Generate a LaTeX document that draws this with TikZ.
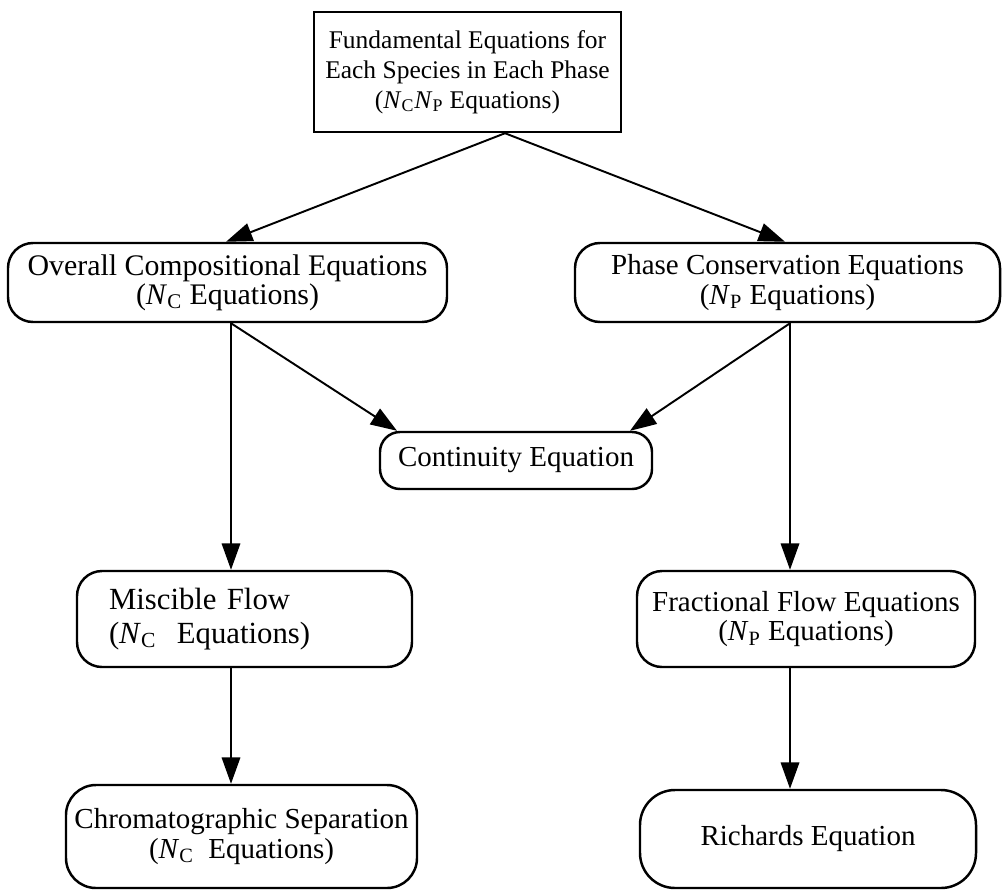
\documentclass[tikz,border=0pt]{standalone}
\usepackage{fontspec}
\setmainfont{Liberation Serif}
\usetikzlibrary{arrows.meta}

\newcommand{\NC}{\textit{N}\textsubscript{C}}
\newcommand{\NP}{\textit{N}\textsubscript{P}}

\begin{document}
\begin{tikzpicture}[->,>={Triangle[length=15pt,width=10.5pt]},line width=1.1pt,
		main node/.style={draw,line width=1.4pt,align=center,inner sep=0pt,
			font=\fontsize{16.5}{17}\selectfont},
		round node/.style={main node,rounded corners=0.5cm}]
		\useasboundingbox (0,0) rectangle (20.16,-17.84);

		\node[main node,minimum width=6.14cm,minimum height=2.4cm,
			font=\fontsize{14.5}{17}\selectfont] (fund) at (9.35,-1.44)
			{Fundamental Equations for\\Each Species in Each Phase\\(\NC\NP{} Equations)};
		\node[round node,minimum width=8.78cm,minimum height=1.58cm,
			font=\fontsize{17}{16.5}\selectfont] (ovr) at (4.55,-5.65)
			{Overall Compositional Equations\\(\NC{} Equations)};
		\node[round node,minimum width=8.5cm,minimum height=1.58cm] (phs) at (15.75,-5.65)
			{Phase Conservation Equations\\(\NP{} Equations)};
		\node[round node,rounded corners=0.4cm,minimum width=5.44cm,minimum height=1.14cm] (cont) at (10.32,-9.21)
			{Continuity Equation};
		\node[round node,align=left,text width=5.42cm,inner xsep=0.64cm,minimum height=1.92cm,
			font=\fontsize{17.5}{19}\selectfont] (mis) at (4.89,-12.38)
			{Miscible Flow\\(\NC{}\ \ Equations)};
		\node[round node,minimum width=6.76cm,minimum height=1.92cm] (frac) at (16.12,-12.38)
			{Fractional Flow Equations\\(\NP{} Equations)};
		\node[round node,rounded corners=0.6cm,minimum width=7.02cm,minimum height=2.06cm] (chrom) at (4.83,-16.73)
			{Chromatographic Separation\\(\NC{}\ \ Equations)};
		\node[round node,rounded corners=0.7cm,minimum width=6.72cm,minimum height=1.96cm] (rich) at (16.16,-16.78)
			{Richards Equation};

		% from the top box
		\draw ([xshift=0.75cm]fund.south) -- ([xshift=-0.03cm]ovr.north);
		\draw ([xshift=0.75cm]fund.south) -- ([xshift=-0.05cm]phs.north);
		% to the continuity equation
		\draw ([xshift=0.07cm]ovr.south) -- ([xshift=-2.38cm]cont.north);
		\draw ([xshift=0.05cm]phs.south) -- ([xshift=2.28cm]cont.north);
		% left column
		\draw ([xshift=0.07cm]ovr.south) -- ([xshift=0.07cm]ovr.south |- mis.north);
		\draw ([xshift=0.07cm]ovr.south |- mis.south) -- ([xshift=0.07cm]ovr.south |- chrom.north);
		% right column
		\draw ([xshift=0.05cm]phs.south) -- ([xshift=0.05cm]phs.south |- frac.north);
		\draw ([xshift=0.05cm]phs.south |- frac.south) -- ([xshift=0.05cm]phs.south |- rich.north);
\end{tikzpicture}
\end{document}
